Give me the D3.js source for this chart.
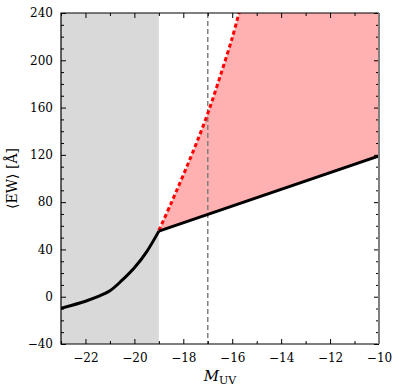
<!DOCTYPE html>
<html>
<head>
<meta charset="utf-8">
<script src="https://cdn.jsdelivr.net/npm/d3@7"></script>
<style>
  body { margin: 0; background: #fff; }
</style>
</head>
<body>
<div id="output"></div>
<script>
var w = 399;   // width of the svg
var h = 386;   // height of the svg
var margin = {top: 13, right: 20, bottom: 42, left: 61};
var serif = '"DejaVu Serif", "Liberation Serif", serif';

// black curve (mean EW vs M_UV)
var ewX = [-23, -22, -21.5, -21, -20.5, -20, -19.5, -19, -10];
var ewY = [-9.8, -3.8, 0, 5, 14, 24.5, 38, 55.5, 119];

// red dashed upper bound
var upX = [-19, -18.5, -18, -17.5, -17, -16.5, -16, -15.7];
var upY = [56, 79, 103, 128, 155, 186, 219, 242];

var shadeX = [-23, -19];   // grey excluded range
var vlineX = -17;          // dashed vertical marker

var xTicks = [-22, -20, -18, -16, -14, -12, -10];
var yTicks = [-40, 0, 40, 80, 120, 160, 200, 240];

var svg = d3.select('#output').append('svg')
  .attr('width', w)
  .attr('height', h);

var x = d3.scaleLinear().domain([-23, -10]).range([margin.left, w - margin.right]);
var y = d3.scaleLinear().domain([-40, 240]).range([h - margin.bottom, margin.top]);

svg.append('clipPath').attr('id', 'clip')
  .append('rect')
  .attr('x', x(-23)).attr('y', y(240))
  .attr('width', x(-10) - x(-23)).attr('height', y(-40) - y(240));

var plot = svg.append('g').attr('clip-path', 'url(#clip)');

// grey band
plot.append('rect')
  .attr('x', x(shadeX[0]))
  .attr('y', y(240))
  .attr('width', x(shadeX[1]) - x(shadeX[0]))
  .attr('height', y(-40) - y(240))
  .attr('fill', '#d9d9d9');

var ew = ewX.map(function(d, i) { return [d, ewY[i]]; });
var up = upX.map(function(d, i) { return [d, upY[i]]; });
var line = d3.line().x(function(p) { return x(p[0]); }).y(function(p) { return y(p[1]); });

// red fill between upper bound and black line
var upPath = line.curve(d3.curveCatmullRom.alpha(0.5))(up);
var lowPath = line.curve(d3.curveLinear)(ew.filter(function(p) { return p[0] >= -19; }).reverse());
plot.append('path')
  .attr('d', upPath + 'L' + x(-10) + ',' + y(250) + lowPath.replace(/^M/, 'L') + 'Z')
  .attr('fill', '#ffb0b0');

// vertical dashed line
plot.append('line')
  .attr('x1', x(vlineX)).attr('x2', x(vlineX))
  .attr('y1', y(240)).attr('y2', y(-40))
  .attr('stroke', '#808080')
  .attr('stroke-width', 1.5)
  .attr('stroke-dasharray', '5,3');

// red dashed
plot.append('path')
  .attr('d', upPath)
  .attr('fill', 'none')
  .attr('stroke', '#ff0000')
  .attr('stroke-width', 3)
  .attr('stroke-dasharray', '4,3');

// black curve: smooth part and straight part
plot.append('path')
  .attr('d', line.curve(d3.curveCatmullRom.alpha(0.5))(ew.filter(function(p) { return p[0] <= -19; })))
  .attr('fill', 'none')
  .attr('stroke', '#000')
  .attr('stroke-width', 3)
  .attr('stroke-linejoin', 'round');
plot.append('path')
  .attr('d', line.curve(d3.curveLinear)(ew.filter(function(p) { return p[0] >= -19; })))
  .attr('fill', 'none')
  .attr('stroke', '#000')
  .attr('stroke-width', 3);

// axes with inward ticks
var fmt = function(d) { return d < 0 ? '\u2212' + Math.abs(d) : d; };
var xMinor = d3.range(-23, -9, 1).filter(function(d) { return xTicks.indexOf(d) < 0; });
var yMinor = d3.range(-40, 241, 10).filter(function(d) { return yTicks.indexOf(d) < 0; });

function styleAxis(g) {
  g.select('.domain').remove();
  g.selectAll('line').attr('stroke', '#000').attr('stroke-width', 1);
  g.selectAll('text').style('font-family', serif).style('font-size', '12px').attr('fill', '#000');
}

svg.append('g').attr('transform', 'translate(0,' + y(-40) + ')')
  .call(d3.axisBottom(x).tickValues(xTicks).tickSize(-5).tickPadding(9).tickFormat(fmt))
  .call(styleAxis);
svg.append('g').attr('transform', 'translate(0,' + y(-40) + ')')
  .call(d3.axisBottom(x).tickValues(xMinor).tickSize(-3).tickFormat(''))
  .call(styleAxis);
svg.append('g').attr('transform', 'translate(0,' + y(240) + ')')
  .call(d3.axisTop(x).tickValues(xTicks).tickSize(-5).tickFormat(''))
  .call(styleAxis);
svg.append('g').attr('transform', 'translate(0,' + y(240) + ')')
  .call(d3.axisTop(x).tickValues(xMinor).tickSize(-3).tickFormat(''))
  .call(styleAxis);

svg.append('g').attr('transform', 'translate(' + x(-23) + ',0)')
  .call(d3.axisLeft(y).tickValues(yTicks).tickSize(-5).tickPadding(8).tickFormat(fmt))
  .call(styleAxis);
svg.append('g').attr('transform', 'translate(' + x(-23) + ',0)')
  .call(d3.axisLeft(y).tickValues(yMinor).tickSize(-3).tickFormat(''))
  .call(styleAxis);
svg.append('g').attr('transform', 'translate(' + x(-10) + ',0)')
  .call(d3.axisRight(y).tickValues(yTicks).tickSize(-5).tickFormat(''))
  .call(styleAxis);
svg.append('g').attr('transform', 'translate(' + x(-10) + ',0)')
  .call(d3.axisRight(y).tickValues(yMinor).tickSize(-3).tickFormat(''))
  .call(styleAxis);

// frame
svg.append('path')
  .attr('d', 'M' + x(-10) + ',' + y(240) + 'H' + x(-23) + 'V' + y(-40) + 'H' + x(-10))
  .attr('fill', 'none').attr('stroke', '#000').attr('stroke-width', 1.2);
svg.append('line')
  .attr('x1', x(-10)).attr('x2', x(-10)).attr('y1', y(240)).attr('y2', y(-40))
  .attr('stroke', '#808080').attr('stroke-width', 2);

// axis labels
var xl = svg.append('text')
  .attr('x', (x(-23) + x(-10)) / 2)
  .attr('y', 381)
  .attr('text-anchor', 'middle')
  .style('font-family', serif)
  .style('font-size', '15px');
xl.append('tspan').attr('font-style', 'italic').text('M');
xl.append('tspan').style('font-size', '11px').attr('dy', 3).text('UV');

svg.append('text')
  .attr('transform', 'translate(17,' + ((y(240) + y(-40)) / 2) + ') rotate(-90)')
  .attr('text-anchor', 'middle')
  .style('font-family', serif)
  .style('font-size', '14px')
  .text('\u27E8EW\u27E9 [\u00C5]');
</script>
</body>
</html>
